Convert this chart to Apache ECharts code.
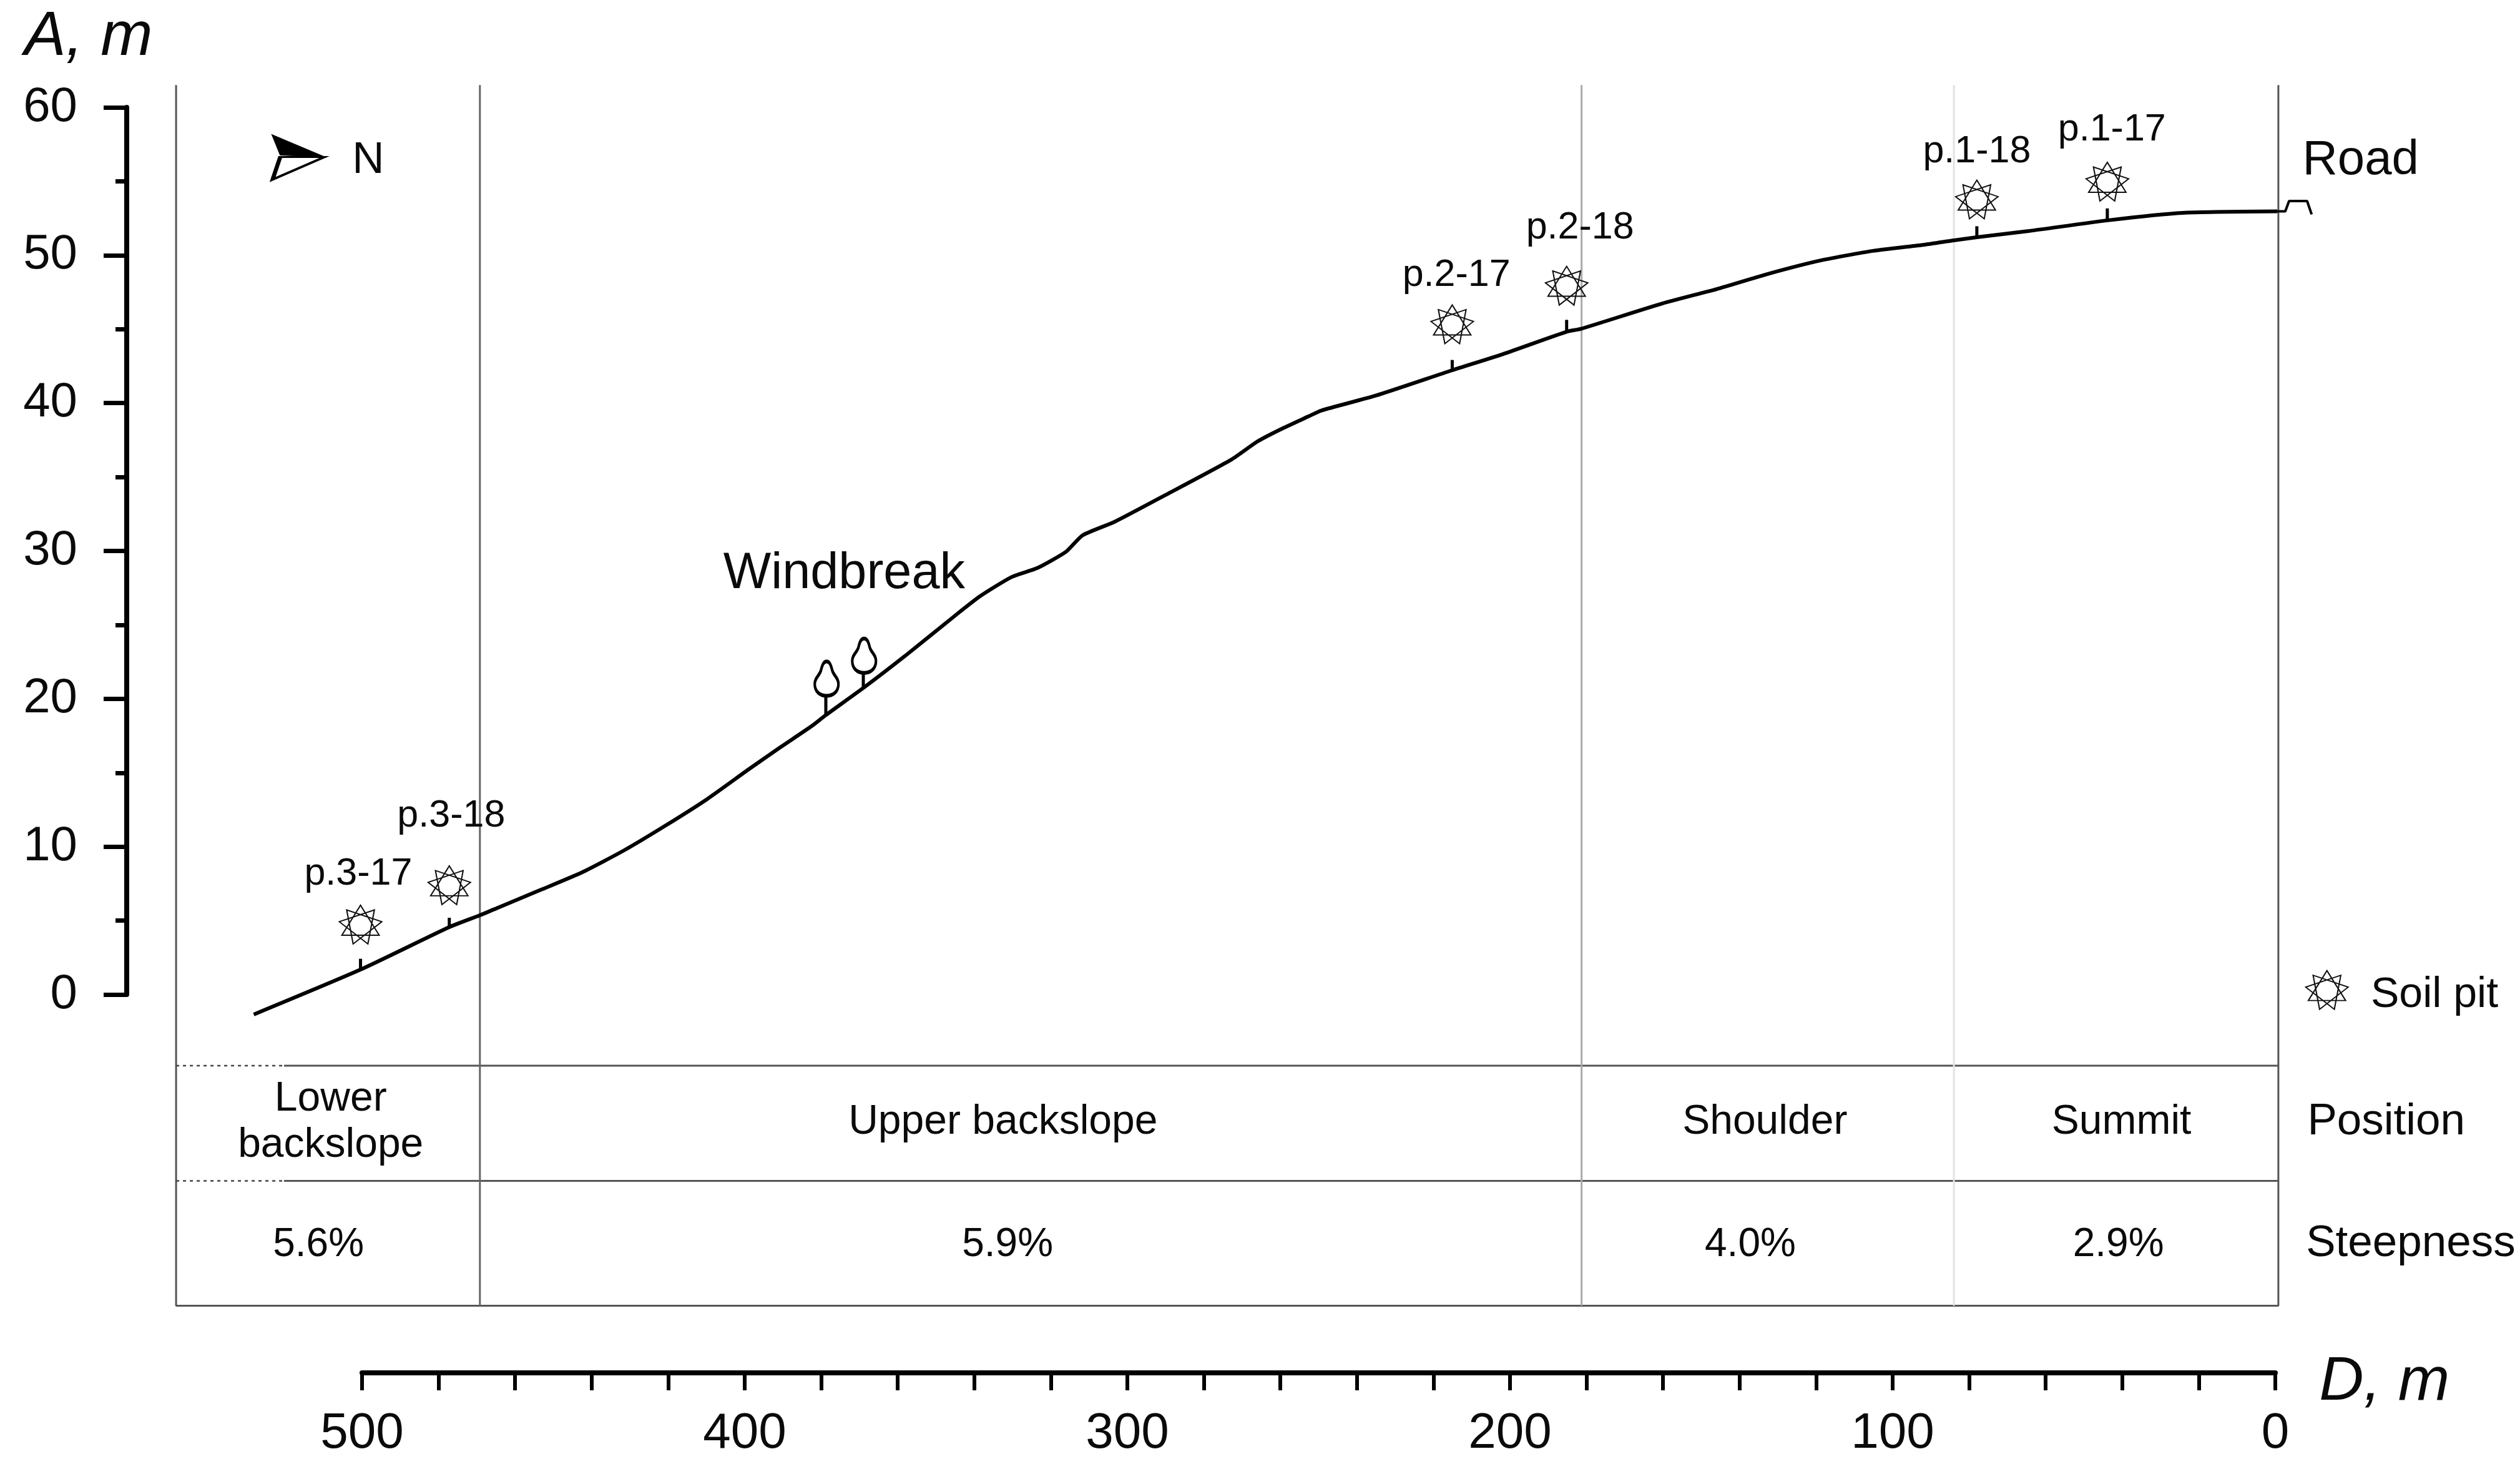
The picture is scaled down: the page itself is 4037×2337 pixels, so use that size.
<!DOCTYPE html>
<html><head><meta charset="utf-8">
<style>html,body{margin:0;background:#fff}#c{width:4037px;height:2337px}</style>
<script src="https://cdn.jsdelivr.net/npm/echarts@6/dist/echarts.min.js"></script>
</head><body><div id="c"></div>
<script>
// ---- values (D = distance, m; A = altitude, m) ----
const profileD = [528.3,500.4,477.2,469.2,464.1,453.2,442.4,431.5,420.6,409.8,398.9,390.7,382.5,378.8,368.6,358,345,338.5,330.2,323.5,316,311.7,303.4,289.4,272.8,266.1,260.2,252.7,249.3,235.1,215.2,201.8,185.2,181.4,160.2,146,132.5,118.8,105.2,91.7,84,78,64.4,43.7,24.3,-0.5];
const profileA = [-1.05,1.97,4.83,5.63,6.18,7.35,8.53,10,11.68,13.45,15.46,16.93,18.36,19.1,21.0,23.1,25.8,27.1,28.4,29.0,30.1,31.2,32.1,34.0,36.3,37.5,38.3,39.2,39.6,40.6,42.3,43.4,44.9,45.1,46.8,47.77,48.8,49.7,50.34,50.76,51.05,51.26,51.68,52.4,52.9,53.0];
const roadD = [-0.5,-2.6,-3.6,-8.3,-9.5];
const roadA = [53.0,53.0,53.7,53.7,52.8];
const pitNames = ['p.3-17','p.3-18','p.2-17','p.2-18','p.1-18','p.1-17'];
const pitD = [500.4,477.2,215.1,185.2,78,43.9];
const pitA = [5.0,7.65,45.4,48.0,53.8,55];
const pitStemTop = [2.7,5.46,43,45.7,52,53.2];
const pitStemBase = [1.97,4.8,42.3,44.9,51.3,52.4];
const treeD = [378.8,369];
const treeBase = [19.1,20.9];
const treeTop = [20.4,22];
const boundaries = [469.2,181.3,84];
const positions = ['Lower\nbackslope','Upper backslope','Shoulder','Summit'];
const steepness = ['5.6%','5.9%','4.0%','2.9%'];
const xTickStep = 100, yTickStep = 10;

// ---- diagram extents and anchors, in data units ----
const frameLeft = 548.6, frameRight = -0.8, frameTop = 61.5, frameBottom = -20.65;
const rowLines = [-4.5,-12.25];
const dottedEnd = 520.4;
const posAnchorD = [508.2,332.5,133.4,40.2], posAnchorA = -8.3;
const steepAnchorD = [511.4,331.3,137.2,41], steepAnchorA = -16.55;
const pitLabelD = [501,476.7,214,181.7,78,42.7];
const pitLabelA = [8.4,12.3,48.7,51.9,57.0,58.5];

// ---- shapes ----
function star(){
  let d='';
  for(let k=0;k<3;k++){
    for(let i=0;i<3;i++){
      const t=(-90+k*40+i*120)*Math.PI/180;
      d+=(i?'L':'M')+(100+100*Math.cos(t)).toFixed(2)+' '+(100+100*Math.sin(t)).toFixed(2);
    }
    d+='Z';
  }
  return 'path://'+d;
}
const STAR = star();
const TREE = 'path://M19 0C24 0 26 6 28 14C30 22 38 26 38 36C38 48 30 55 19 55C8 55 0 48 0 36C0 26 8 22 10 14C12 6 14 0 19 0Z';
const NORTH_UP = 'path://M0 0L83 35L13 32Z';
const NORTH_LOW = 'path://M13 0L83 0L1 36Z';

const INK = '#0a0a0a', FONT = 'Liberation Sans';
const zip = (a,b)=>a.map((v,i)=>[v,b[i]]);
const onWide = {xAxisIndex:1,yAxisIndex:1};
const seg = (pts,color,width,type,z,smooth)=>Object.assign({type:'line',data:pts,symbol:'none',clip:false,silent:true,animation:false,z:z||2,smooth:smooth||false,
  lineStyle:{color,width,type:type||'solid',cap:'butt'}},onWide);
const mark = (o)=>Object.assign({type:'scatter',clip:false,silent:true,animation:false},onWide,o);
const txt = (s,d,a,size,extra)=>({value:[d,a],label:Object.assign({show:true,position:'inside',formatter:s,fontSize:size,fontFamily:FONT,color:INK,align:'center',verticalAlign:'middle'},extra||{})});

const FRAME='#555';
const series = [];
// frame
series.push(seg([[frameLeft,frameTop],[frameLeft,frameBottom],[frameRight,frameBottom],[frameRight,frameTop]],FRAME,3));
// row rules: solid with a dotted start
rowLines.forEach(a=>{
  series.push(seg([[frameLeft,a],[dottedEnd,a]],'#444',2.5,[5,6]));
  series.push(seg([[dottedEnd,a],[frameRight,a]],FRAME,3));
});
// slope-position boundaries
const boundaryColors=['#666','#aaa','#e2e2e2'];
boundaries.forEach((d,i)=>series.push(seg([[d,frameTop],[d,frameBottom]],boundaryColors[i],3)));
// ground profile and road
series.push(seg(zip(profileD,profileA),'#000',6,null,5,0.2));
series.push(seg(zip(roadD,roadA),'#000',4,null,5));
// stems
pitD.forEach((d,i)=>series.push(seg([[d,pitStemBase[i]],[d,pitStemTop[i]]],'#000',5,null,5)));
treeD.forEach((d,i)=>series.push(seg([[d,treeBase[i]],[d,treeTop[i]]],'#000',5,null,5)));
// soil pit markers
series.push(mark({z:6,symbol:STAR,symbolSize:[68,62],
  itemStyle:{color:'rgba(255,255,255,0)',borderColor:'#111',borderWidth:2,opacity:1},
  data:zip(pitD,pitA).concat([[-13.5,0.6]])}));
// windbreak trees
series.push(mark({z:6,symbol:TREE,symbolSize:[38,55],
  itemStyle:{color:'#fff',borderColor:'#000',borderWidth:5,opacity:1},
  data:[[378.6,21.55],[368.8,23.1]]}));
// north arrow
series.push(mark({z:6,symbol:NORTH_LOW,symbolSize:[83,36],
  itemStyle:{color:'#fff',borderColor:'#000',borderWidth:4.5,opacity:1},data:[[516.6,55.9]]}));
series.push(mark({z:7,symbol:NORTH_UP,symbolSize:[83,35],
  itemStyle:{color:'#000',borderColor:'#000',borderWidth:2,opacity:1},data:[[516.6,57.4]]}));
// text
const texts=[];
pitNames.forEach((s,i)=>texts.push(txt(s,pitLabelD[i],pitLabelA[i],61)));
positions.forEach((s,i)=>texts.push(txt(s,posAnchorD[i],posAnchorA,66,{lineHeight:74})));
steepness.forEach((s,i)=>texts.push(txt(s,steepAnchorD[i],steepAnchorA,64)));
texts.push(txt('Windbreak',374,28.6,81));
texts.push(txt('Road',-22.3,56.4,78));
texts.push(txt('N',498.4,56.4,71));
texts.push(txt('Position',-29,-8.3,71));
texts.push(txt('Steepness',-35.4,-16.5,71));
texts.push(txt('Soil pit',-41.6,0.25,68));
texts.push(txt('A, m',571.5,64.7,100,{fontStyle:'italic'}));
texts.push(txt('D, m',-28.5,-25.8,99,{fontStyle:'italic'}));
series.push(mark({z:8,symbolSize:0,itemStyle:{opacity:1},data:texts}));

const pxPerD = 6.13, pxPerA = 23.8, x0 = 3645, y0 = 1600;   // where D=0 and A=0 sit on the page
const wideD = [-60,590], wideA = [-30,65];                 // hidden scale covering the whole diagram
const chart = echarts.init(document.getElementById('c'),null,{renderer:'canvas'});
chart.setOption({
  backgroundColor:'#fff',
  animation:false,
  grid:[
    {left:x0-500*pxPerD,width:500*pxPerD,top:y0-60*pxPerA,height:60*pxPerA,containLabel:false},
    {left:x0-wideD[1]*pxPerD,width:(wideD[1]-wideD[0])*pxPerD,top:y0-wideA[1]*pxPerA,height:(wideA[1]-wideA[0])*pxPerA,containLabel:false}
  ],
  xAxis:[
    {gridIndex:0,type:'value',inverse:true,min:0,max:500,interval:xTickStep,position:'bottom',offset:606,
    axisLine:{show:true,onZero:false,lineStyle:{color:'#000',width:8}},
    axisTick:{show:true,length:28,lineStyle:{color:'#000',width:6}},
    minorTick:{show:true,splitNumber:5,length:28,lineStyle:{color:'#000',width:6}},
    axisLabel:{fontSize:80,fontFamily:FONT,color:INK,margin:58},
    splitLine:{show:false},minorSplitLine:{show:false}},
    {gridIndex:1,type:'value',show:false,inverse:true,min:wideD[0],max:wideD[1],splitLine:{show:false}}
  ],
  yAxis:[
    {gridIndex:0,type:'value',min:0,max:60,interval:yTickStep,position:'left',offset:377,
    axisLine:{show:true,onZero:false,lineStyle:{color:'#000',width:8}},
    axisTick:{show:true,length:37,lineStyle:{color:'#000',width:7}},
    minorTick:{show:true,splitNumber:2,length:18,lineStyle:{color:'#000',width:7}},
    axisLabel:{fontSize:78,fontFamily:FONT,color:INK,margin:79,padding:[14,0,0,0]},
    splitLine:{show:false},minorSplitLine:{show:false}},
    {gridIndex:1,type:'value',show:false,min:wideA[0],max:wideA[1],splitLine:{show:false}}
  ],
  series
});
</script></body></html>
